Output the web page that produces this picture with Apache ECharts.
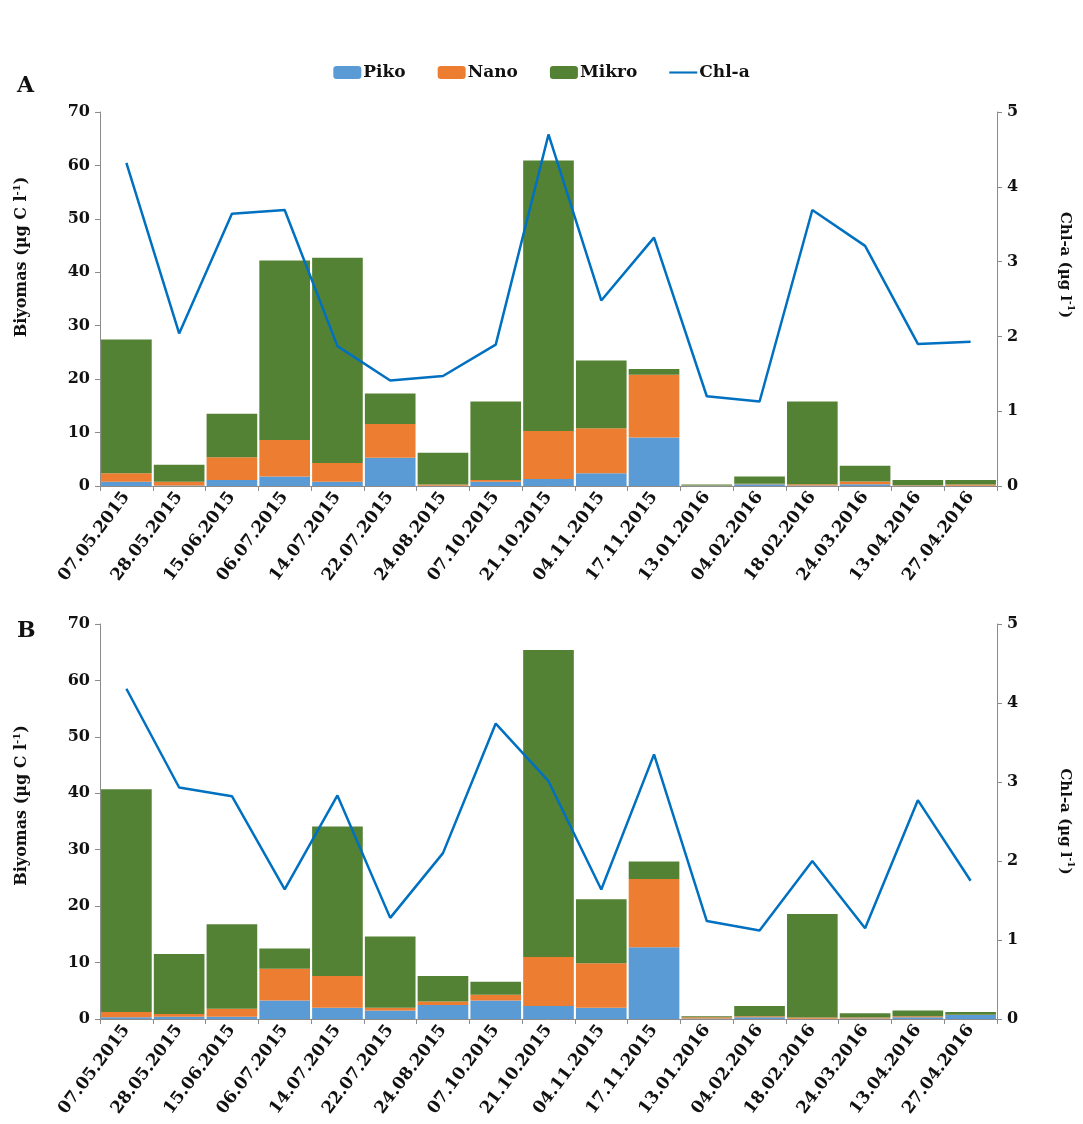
<!DOCTYPE html>
<html>
<head>
<meta charset="utf-8">
<script src="https://cdn.jsdelivr.net/npm/echarts@6/dist/echarts.min.js"></script>
<style>html,body{margin:0;padding:0;background:#fff}#c{width:1083px;height:1124px}</style>
</head>
<body>
<div id="c"></div>
<script>
const categories = ['07.05.2015','28.05.2015','15.06.2015','06.07.2015','14.07.2015','22.07.2015','24.08.2015','07.10.2015','21.10.2015','04.11.2015','17.11.2015','13.01.2016','04.02.2016','18.02.2016','24.03.2016','13.04.2016','27.04.2016'];
const leftTicks = [0,10,20,30,40,50,60,70];
const rightTicks = [0,1,2,3,4,5];

const pikoA  = [0.8,0.1,1.1,1.8,0.8,5.3,0.05,0.8,1.3,2.4,9.1,0.05,0.35,0.1,0.35,0.05,0.05];
const nanoA  = [1.6,0.7,4.3,6.8,3.5,6.3,0.25,0.3,9.0,8.4,11.7,0.05,0.05,0.25,0.5,0.1,0.25];
const mikroA = [25.0,3.2,8.1,33.6,38.4,5.7,5.9,14.7,50.6,12.7,1.1,0.2,1.4,15.45,2.95,0.95,0.8];
const chlA   = [4.32,2.04,3.64,3.69,1.87,1.41,1.47,1.89,4.70,2.48,3.32,1.20,1.13,3.69,3.21,1.90,1.93];

const pikoB  = [0.3,0.4,0.4,3.3,2.0,1.5,2.5,3.3,2.3,2.0,12.7,0.1,0.3,0.05,0.1,0.3,0.7];
const nanoB  = [0.95,0.5,1.4,5.6,5.6,0.5,0.6,1.0,8.7,7.9,12.1,0.2,0.2,0.2,0.15,0.2,0.05];
const mikroB = [39.45,10.6,15.0,3.6,26.5,12.6,4.5,2.3,54.4,11.3,3.1,0.2,1.8,18.35,0.75,1.0,0.5];
const chlB   = [4.18,2.93,2.82,1.64,2.83,1.28,2.10,3.74,3.01,1.64,3.35,1.24,1.12,2.00,1.15,2.77,1.75];

const FONT = 'DejaVu Serif';
const C_PIKO = '#5B9BD5', C_NANO = '#ED7D31', C_MIKRO = '#548235', C_CHL = '#0070C0';
const axisLineStyle = {lineStyle:{color:'#8c8c8c', width:1}};
const tickLabel = {fontFamily:FONT, fontWeight:'bold', fontSize:16, color:'#111'};

const grids = [
  {left:100, right:78, top:112, height:374},
  {left:100, right:78, top:624, height:395}
];

function xAx(gi){
  return {type:'category', gridIndex:gi, data:categories,
    axisLine:axisLineStyle, axisTick:{show:true, alignWithLabel:false, length:5, lineStyle:{color:'#8c8c8c'}},
    axisLabel:{interval:0, rotate:53, margin:8, fontFamily:FONT, fontWeight:'bold', fontSize:17, color:'#111'}};
}
function yLeft(gi, shift){
  return {type:'value', gridIndex:gi, min:0, max:70, interval:10, position:'left',
    name:'{a|Biyomas (µg C l}{s|-1}{a|)}', nameLocation:'middle', nameGap:68, nameRotate:90,
    nameTextStyle:{padding:[0,0,0,shift], rich:{
      a:{fontFamily:FONT, fontWeight:'bold', fontSize:16, color:'#111', lineHeight:20},
      s:{fontFamily:FONT, fontWeight:'bold', fontSize:10, color:'#111', verticalAlign:'top', lineHeight:20}}},
    axisLine:{show:true, ...axisLineStyle}, axisTick:{show:true, length:5, lineStyle:{color:'#8c8c8c'}},
    splitLine:{show:false},
    axisLabel:{...tickLabel, margin:10, formatter:v=>leftTicks.includes(v)?String(v):''}};
}
function yRight(gi, shift){
  return {type:'value', gridIndex:gi, min:0, max:5, interval:1, position:'right',
    name:'{a|Chl-a (µg l}{s|-1}{a|)}', nameLocation:'middle', nameGap:58, nameRotate:-90,
    nameTextStyle:{padding:[0,shift,0,0], rich:{
      a:{fontFamily:FONT, fontWeight:'bold', fontSize:15, color:'#111', lineHeight:20},
      s:{fontFamily:FONT, fontWeight:'bold', fontSize:9, color:'#111', verticalAlign:'top', lineHeight:20}}},
    axisLine:{show:true, ...axisLineStyle}, axisTick:{show:true, length:5, lineStyle:{color:'#8c8c8c'}},
    splitLine:{show:false},
    axisLabel:{...tickLabel, margin:10, formatter:v=>rightTicks.includes(v)?String(v):''}};
}
function bar(name, data, color, gi){
  return {name, type:'bar', stack:'s'+gi, xAxisIndex:gi, yAxisIndex:gi*2, data,
    barCategoryGap:'4%', itemStyle:{color}, emphasis:{disabled:true}};
}
function line(data, gi){
  return {name:'Chl-a', type:'line', xAxisIndex:gi, yAxisIndex:gi*2+1, data, symbol:'none',
    lineStyle:{color:C_CHL, width:2.5}, itemStyle:{color:C_CHL}, z:5};
}

const option = {
  animation:false,
  backgroundColor:'#fff',
  title:[
    {text:'A', left:12, top:70, textStyle:{fontFamily:FONT, fontWeight:'bold', fontSize:22, color:'#111'}},
    {text:'B', left:12, top:615, textStyle:{fontFamily:FONT, fontWeight:'bold', fontSize:22, color:'#111'}}
  ],
  legend:{top:59, left:'center', itemWidth:28, itemHeight:13, itemGap:32, symbolKeepAspect:true,
    data:['Piko','Nano','Mikro',{name:'Chl-a', icon:'path://M0,0 L40,0 L40,3 L0,3 Z'}],
    textStyle:{fontFamily:FONT, fontWeight:'bold', fontSize:17, color:'#111', padding:[0,0,0,-3]}},
  grid:grids,
  xAxis:[xAx(0), xAx(1)],
  yAxis:[yLeft(0,84), yRight(0,68), yLeft(1,32), yRight(1,0)],
  series:[
    bar('Piko', pikoA, C_PIKO, 0), bar('Nano', nanoA, C_NANO, 0), bar('Mikro', mikroA, C_MIKRO, 0), line(chlA, 0),
    bar('Piko', pikoB, C_PIKO, 1), bar('Nano', nanoB, C_NANO, 1), bar('Mikro', mikroB, C_MIKRO, 1), line(chlB, 1)
  ]
};
const chart = echarts.init(document.getElementById('c'), null, {renderer:'canvas'});
chart.setOption(option);
</script>
</body>
</html>
